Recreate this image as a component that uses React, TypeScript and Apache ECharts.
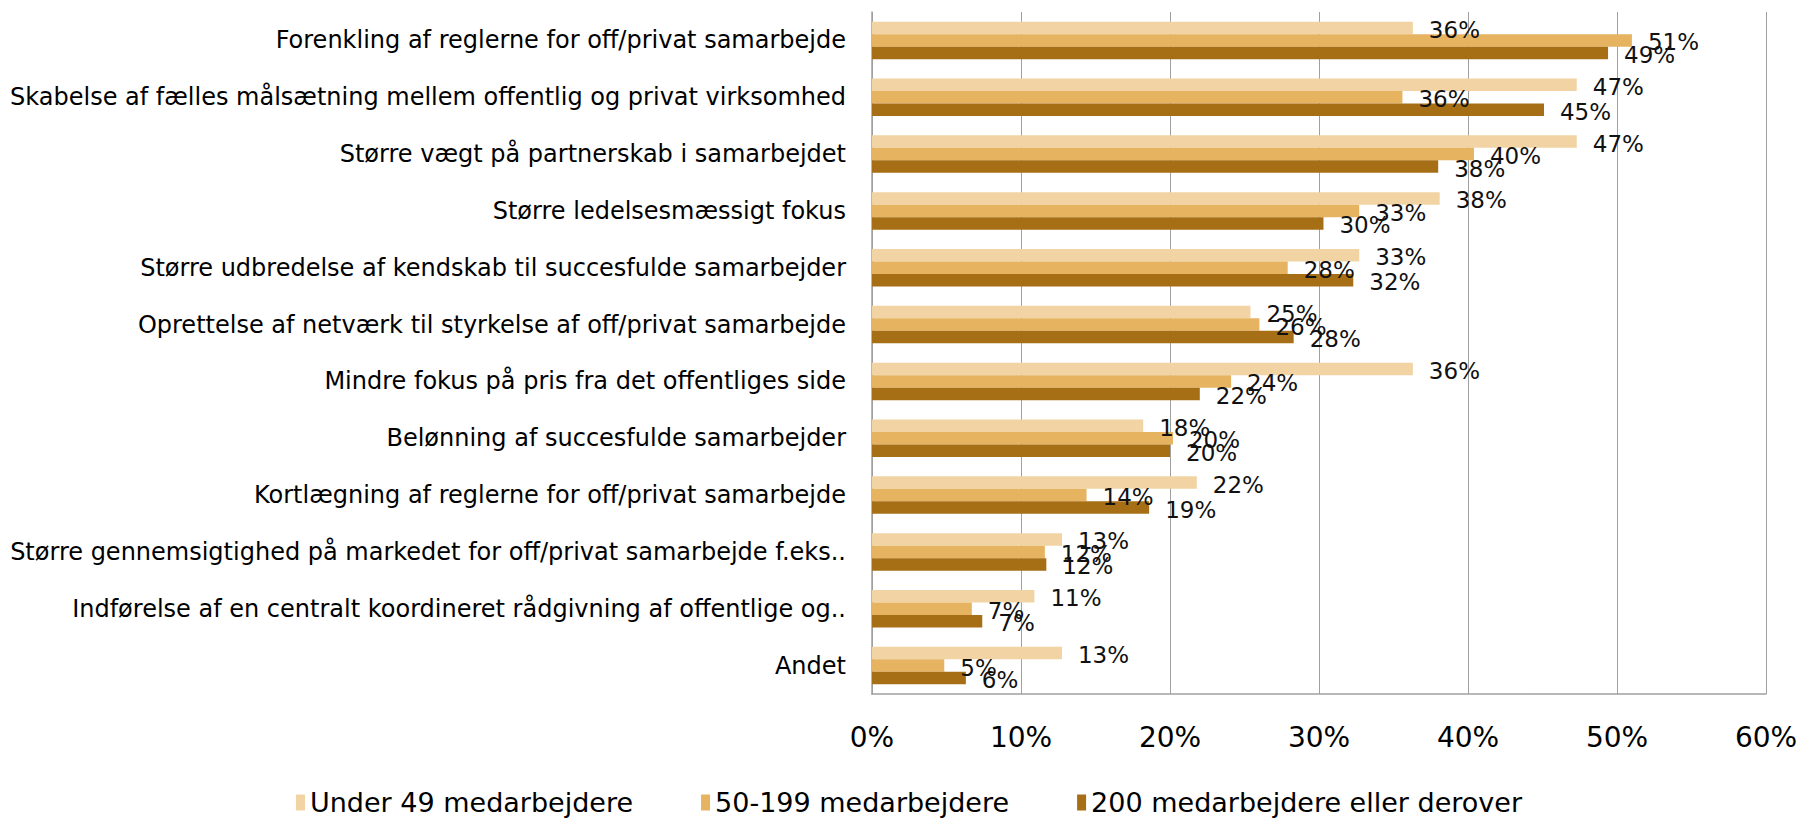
import React, { useEffect, useRef } from "react";
import * as echarts from "echarts";

const categories = [
  "Forenkling af reglerne for off/privat samarbejde",
  "Skabelse af fælles målsætning mellem offentlig og privat virksomhed",
  "Større vægt på partnerskab i samarbejdet",
  "Større ledelsesmæssigt fokus",
  "Større udbredelse af kendskab til succesfulde samarbejder",
  "Oprettelse af netværk til styrkelse af off/privat samarbejde",
  "Mindre fokus på pris fra det offentliges side",
  "Belønning af succesfulde samarbejder",
  "Kortlægning af reglerne for off/privat samarbejde",
  "Større gennemsigtighed på markedet for off/privat samarbejde f.eks..",
  "Indførelse af en centralt koordineret rådgivning af offentlige og..",
  "Andet",
];

const seriesNames = [
  "Under 49 medarbejdere",
  "50-199 medarbejdere",
  "200 medarbejdere eller derover",
];

const under49 = [36.3, 47.3, 47.3, 38.1, 32.7, 25.4, 36.3, 18.2, 21.8, 12.75, 10.9, 12.75];
const mid50to199 = [51.0, 35.6, 40.4, 32.7, 27.9, 26.0, 24.1, 20.2, 14.4, 11.6, 6.7, 4.85];
const over200 = [49.4, 45.1, 38.0, 30.3, 32.3, 28.3, 22.0, 20.0, 18.6, 11.7, 7.4, 6.3];

const tickValues = [0, 10, 20, 30, 40, 50, 60];

const colors = ["#F2D4A4", "#E6B361", "#A66F16"];

export default function App() {
  const ref = useRef<HTMLDivElement>(null);

  useEffect(() => {
    if (!ref.current) return;
    const chart = echarts.init(ref.current, undefined, { renderer: "svg" });
    const font = "'DejaVu Sans', Verdana, sans-serif";
    const dataSets = [under49, mid50to199, over200];
    chart.setOption({
      animation: false,
      backgroundColor: "#ffffff",
      grid: { left: 872, right: 35, top: 12, bottom: 125, containLabel: false },
      legend: {
        data: seriesNames,
        left: 291,
        top: 784,
        itemWidth: 9,
        itemHeight: 16,
        itemGap: 68,
        icon: "rect",
        textStyle: { fontFamily: font, fontSize: 27, color: "#000" },
      },
      xAxis: {
        type: "value",
        min: tickValues[0],
        max: tickValues[tickValues.length - 1],
        interval: 10,
        axisLine: { show: true, lineStyle: { color: "#A0A0A0", width: 1.5 } },
        axisTick: { show: false },
        splitLine: { show: true, lineStyle: { color: "#A0A0A0", width: 1 } },
        axisLabel: {
          formatter: (v: number) => `${v}%`,
          fontFamily: font,
          fontSize: 28,
          color: "#000",
          margin: 29,
        },
      },
      yAxis: {
        type: "category",
        data: categories,
        inverse: true,
        axisLine: { show: true, lineStyle: { color: "#A0A0A0", width: 1.5 } },
        axisTick: { show: false },
        axisLabel: {
          fontFamily: font,
          fontSize: 24,
          color: "#000",
          margin: 26,
        },
      },
      series: seriesNames.map((name, i) => ({
        name,
        type: "bar",
        data: dataSets[i],
        barGap: "0%",
        barCategoryGap: "34%",
        itemStyle: { color: colors[i] },
        label: {
          show: true,
          position: "right",
          distance: 16,
          offset: [0, 2],
          formatter: (p: any) => `${Math.round(p.value)}%`,
          fontFamily: font,
          fontSize: 23,
          color: "#111",
        },
      })),
    });
    return () => chart.dispose();
  }, []);

  return (
    <div
      ref={ref}
      style={{ position: "fixed", left: 0, top: 0, width: 1801, height: 819 }}
    />
  );
}
